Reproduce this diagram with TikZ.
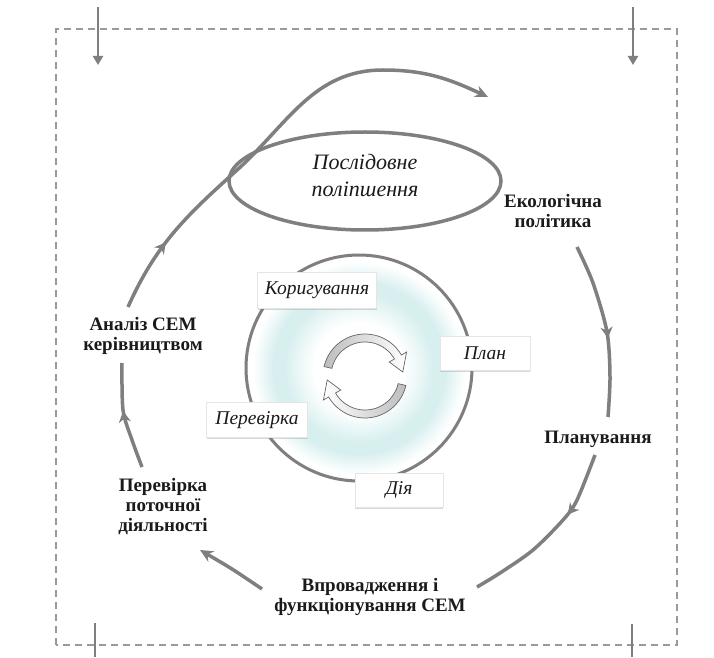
\documentclass[tikz,border=0pt]{standalone}
\usepackage{fontspec}
\setmainfont{Liberation Serif}
\usetikzlibrary{arrows.meta,decorations.markings,shadows,shapes.geometric}
\definecolor{linec}{HTML}{7F7F7F}
\definecolor{framec}{HTML}{9A9A9A}
\definecolor{ringc}{HTML}{D8EFEF}
\definecolor{txt}{HTML}{1A1A1A}
\definecolor{arrfill}{HTML}{BDBDBD}
\pgfdeclareradialshading{ringshade}{\pgfpoint{0bp}{0bp}}{color(0bp)=(white); color(10bp)=(white); color(16.5bp)=(ringc); color(19bp)=(ringc); color(23.5bp)=(white); color(25bp)=(white); color(50bp)=(white)}
\begin{document}
\begin{tikzpicture}[x=1pt,y=1pt,
  spiral/.style={draw=linec, line width=3.5pt},
  endarrow/.style={-{Stealth[length=13pt,width=12pt]}},
  midarrow/.style={postaction={decorate}, decoration={markings, mark=at position #1 with {\arrow{Stealth[length=11pt,width=12pt,inset=3.5pt]}}}},
  outer/.style={font=\fontsize{19}{20}\selectfont\bfseries, text=txt, align=center, inner sep=0pt},
  inbox/.style={fill=white, draw=gray!20, line width=0.4pt, font=\fontsize{19.5}{20}\selectfont\itshape, text=txt,
     drop shadow={shadow xshift=0pt, shadow yshift=-1.5pt, opacity=0.3}},
  toparr/.style={draw=linec, line width=2.5pt, -{Triangle[length=9pt,width=10pt]}},
  tick/.style={draw=linec, line width=2.5pt},
  cyc/.style={draw=black!60, line width=0.7pt}
]
\useasboundingbox (0,0) rectangle (714,657);
\fill[white] (0,0) rectangle (714,657);

% frame
\draw[framec, line width=1.5pt, dash pattern=on 7pt off 5pt] (56,12) rectangle (677,628);
\coordinate (t1s) at (98,650); \coordinate (t1e) at (98,592);
\coordinate (t2s) at (633,650); \coordinate (t2e) at (633,592);
\draw[toparr] (t1s) -- (t1e);
\draw[toparr] (t2s) -- (t2e);
\coordinate (b1s) at (95,0); \coordinate (b1e) at (95,34);
\coordinate (b2s) at (632,0); \coordinate (b2e) at (632,33);
\draw[tick] (b1s) -- (b1e);
\draw[tick] (b2s) -- (b2e);

% central circle
\node[circle, minimum size=226pt, inner sep=0pt, shading=ringshade, draw=linec, line width=3pt] (circ) at (359,289) {};

% cycle arrows
\begin{scope}[shift={(365,281)}]
\draw[cyc, left color=arrfill, right color=white] (167:42) arc[start angle=167, end angle=30, radius=42]
  -- (30:48) -- (6:38) -- (30:28) -- (30:34) arc[start angle=30, end angle=167, radius=34] -- cycle;
\draw[cyc, left color=white, right color=arrfill] (-13:42) arc[start angle=-13, end angle=-150, radius=42]
  -- (-150:48) -- (-174:38) -- (-150:28) -- (-150:34) arc[start angle=-150, end angle=-13, radius=34] -- cycle;
\end{scope}

% inner boxes
\node[inbox, minimum width=119pt, minimum height=36pt] (kor) at (317,367) {Коригування};
\node[inbox, minimum width=90pt, minimum height=34pt] (plan) at (485,304) {План};
\node[inbox, minimum width=101pt, minimum height=35pt] (perev) at (257,237) {Перевірка};
\node[inbox, minimum width=88pt, minimum height=34pt] (dia) at (399,167) {Дія};

% ellipse
\node[ellipse, draw=linec, line width=3.5pt, minimum width=272pt, minimum height=98pt, inner sep=0pt] (ell) at (365,476) {};
\node[font=\fontsize{22}{27}\selectfont\itshape, text=txt, align=center] (elltxt) at (365,481) {Послідовне\\поліпшення};

% spiral
\coordinate (a0) at (128,350);
\coordinate (a1) at (236,486);
\coordinate (a2) at (383,587);
\coordinate (a3) at (488,560);
\draw[spiral, endarrow, midarrow=0.16] (a0) to[out=66,in=222] (a1) to[out=42,in=180] (a2) to[out=0,in=155] (a3);
\draw[spiral, midarrow=0.55] plot[smooth] coordinates
  {(577,410) (593,374) (607,325) (610,280) (608,240)};
\draw[spiral, midarrow=0.36] plot[smooth] coordinates
  {(595,202) (577,157) (563,137) (533,107) (500,84) (477,70)};
\draw[spiral, endarrow] plot[smooth] coordinates
  {(262,68) (232,88) (200,107)};
\draw[spiral, midarrow=0.55] plot[smooth] coordinates
  {(142,190) (132,217) (123,247) (122,294)};

% outer labels
\node[outer] (eco) at (553,446) {Екологічна\\політика};
\node[outer] (planuv) at (598,218) {Планування};
\node[outer] (vpr) at (370,60) {Впровадження і\\функціонування СЕМ};
\node[outer] (perpot) at (163,150) {Перевірка\\поточної\\діяльності};
\node[outer] (anal) at (143,321) {Аналіз СЕМ\\керівництвом};
\end{tikzpicture}
\end{document}
